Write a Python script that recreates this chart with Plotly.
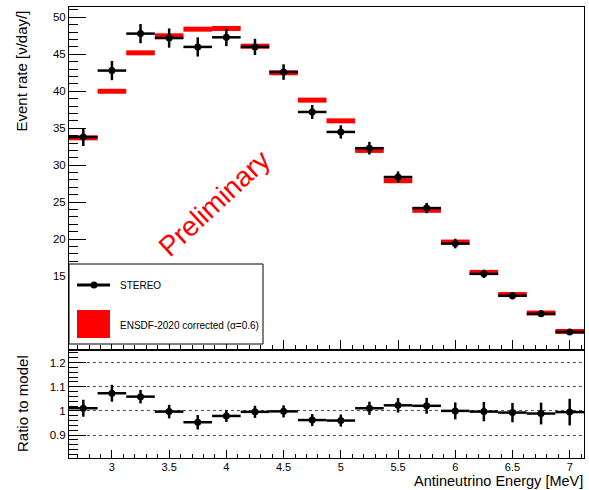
import plotly.graph_objects as go

# ---------------- data ----------------
energy = [2.75, 3.0, 3.25, 3.5, 3.75, 4.0, 4.25, 4.5, 4.75, 5.0,
          5.25, 5.5, 5.75, 6.0, 6.25, 6.5, 6.75, 7.0]
bin_half = [0.125] * 18
stereo_rate = [33.8, 42.8, 47.8, 47.2, 46.0, 47.3, 46.0, 42.6, 37.2, 34.5,
               32.3, 28.4, 24.2, 19.4, 15.3, 12.35, 9.9, 7.45]
stereo_err = [1.2, 1.3, 1.3, 1.3, 1.3, 1.2, 1.1, 1.05, 0.95, 0.9,
              0.85, 0.75, 0.7, 0.65, 0.56, 0.5, 0.42, 0.4]
model_rate = [33.7, 40.0, 45.2, 47.5, 48.4, 48.5, 46.1, 42.5, 38.8, 36.0,
              32.0, 27.9, 23.9, 19.6, 15.5, 12.5, 10.0, 7.5]
ratio = [1.011, 1.073, 1.059, 0.997, 0.953, 0.979, 0.996, 0.998, 0.962, 0.960,
         1.011, 1.023, 1.021, 1.0, 0.997, 0.993, 0.989, 0.995]
ratio_err = [0.035, 0.035, 0.028, 0.028, 0.03, 0.025, 0.025, 0.025, 0.025, 0.025,
             0.027, 0.03, 0.033, 0.035, 0.04, 0.04, 0.045, 0.055]
rate_ticks = [15, 20, 25, 30, 35, 40, 45, 50]
ratio_ticks = [0.9, 1.0, 1.1, 1.2]

# ---------------- geometry helpers ----------------
W, H = 589, 490
ML, MR, MT, MB = 69, 5, 7, 32
PW, PH = W - ML - MR, H - MT - MB
SPLIT = 350  # pixel y of panel boundary
split_frac = (H - MB - SPLIT) / PH


def px(x):
    return (x - ML) / PW


def py(y):
    return (H - MB - y) / PH


FONT = "Liberation Sans, Arial, Helvetica, sans-serif"

fig = go.Figure()

# model (red bands)
fig.add_trace(go.Scatter(
    x=energy, y=model_rate, mode="markers",
    marker=dict(size=1, color="rgba(0,0,0,0)"),
    error_x=dict(type="data", array=bin_half, color="#ff0000", thickness=5, width=0),
    xaxis="x2", yaxis="y2", showlegend=False, hoverinfo="skip"))

# STEREO data
fig.add_trace(go.Scatter(
    x=energy, y=stereo_rate, mode="markers",
    marker=dict(size=7, color="black"),
    error_x=dict(type="data", array=bin_half, color="black", thickness=2.5, width=0),
    error_y=dict(type="data", array=stereo_err, color="black", thickness=2.5, width=0),
    xaxis="x2", yaxis="y2", showlegend=False))

# ratio panel
fig.add_trace(go.Scatter(
    x=energy, y=ratio, mode="markers",
    marker=dict(size=7, color="black"),
    error_x=dict(type="data", array=bin_half, color="black", thickness=2.5, width=0),
    error_y=dict(type="data", array=ratio_err, color="black", thickness=2.5, width=0),
    xaxis="x", yaxis="y", showlegend=False))

tickfont = dict(family=FONT, size=11.5, color="black")
xtickfont = dict(family=FONT, size=11, color="black")

fig.update_layout(
    width=W, height=H,
    margin=dict(l=ML, r=MR, t=MT, b=MB, autoexpand=False),
    paper_bgcolor="white", plot_bgcolor="white",
    showlegend=False,
    xaxis=dict(domain=[0, 1], range=[2.625, 7.125], anchor="y", automargin=False,
               tickmode="linear", tick0=0, dtick=0.5,
               ticks="inside", ticklen=8, tickcolor="black", tickwidth=1,
               ticklabelstandoff=-1,
               minor=dict(ticks="inside", ticklen=4, tick0=0, dtick=0.1, tickcolor="black"),
               showline=True, linecolor="black", linewidth=1, mirror=True,
               showgrid=False, zeroline=False, tickfont=xtickfont),
    yaxis=dict(domain=[0, split_frac], range=[0.805, 1.252], anchor="x", automargin=False,
               tickmode="array", tickvals=ratio_ticks,
               ticktext=["0.9", "1", "1.1", "1.2"],
               ticks="inside", ticklen=17, tickcolor="black",
               minor=dict(ticks="inside", ticklen=9, tickmode="linear", tick0=0, dtick=0.02,
                          tickcolor="black", showgrid=False),
               showline=True, linecolor="black", linewidth=1, mirror=True,
               showgrid=True, gridcolor="#555", griddash="dot", gridwidth=1,
               zeroline=False, tickfont=tickfont),
    xaxis2=dict(domain=[0, 1], range=[2.625, 7.125], anchor="y2", matches="x",
                automargin=False,
                tickmode="linear", tick0=0, dtick=0.5, showticklabels=False,
                ticks="inside", ticklen=10, tickcolor="black",
                minor=dict(ticks="inside", ticklen=5, tick0=0, dtick=0.1, tickcolor="black"),
                showline=True, linecolor="black", linewidth=1, mirror=True,
                showgrid=False, zeroline=False),
    yaxis2=dict(domain=[split_frac, 1], range=[5.0, 51.4], anchor="x2", automargin=False,
                tickmode="array", tickvals=rate_ticks,
                ticks="inside", ticklen=17, tickcolor="black",
                minor=dict(ticks="inside", ticklen=9, tickmode="linear", tick0=0, dtick=1,
                           tickcolor="black"),
                showline=True, linecolor="black", linewidth=1, mirror=True,
                showgrid=False, zeroline=False, tickfont=tickfont),
)

# legend box (drawn manually, covers axis below 15)
shapes = [
    dict(type="rect", xref="paper", yref="paper", layer="above",
         x0=px(69), x1=px(263), y0=py(344), y1=py(264),
         fillcolor="white", line=dict(color="black", width=1)),
    dict(type="line", xref="paper", yref="paper", layer="above",
         x0=px(77), x1=px(110), y0=py(285), y1=py(285),
         line=dict(color="black", width=3)),
    dict(type="circle", xref="paper", yref="paper", layer="above",
         x0=px(90.5), x1=px(97.5), y0=py(288.5), y1=py(281.5),
         fillcolor="black", line=dict(color="black", width=0)),
    dict(type="rect", xref="paper", yref="paper", layer="above",
         x0=px(77), x1=px(110), y0=py(338), y1=py(310),
         fillcolor="#ff0000", line=dict(color="#ff0000", width=0)),
]
fig.update_layout(shapes=shapes)

annotations = [
    dict(text="STEREO", xref="paper", yref="paper", x=px(118), y=py(285),
         xanchor="left", yanchor="middle", showarrow=False,
         font=dict(family=FONT, size=10, color="black")),
    dict(text="ENSDF-2020 corrected (α=0.6)", xref="paper", yref="paper",
         x=px(118), y=py(325), xanchor="left", yanchor="middle", showarrow=False,
         font=dict(family=FONT, size=10, color="black")),
    dict(text="Preliminary", xref="paper", yref="paper", x=px(214), y=py(203),
         xanchor="center", yanchor="middle", showarrow=False, textangle=-43,
         font=dict(family=FONT, size=28, color="#ff0000")),
    dict(text="Event rate [ν/day/]", xref="paper", yref="paper", x=px(21), y=py(9),
         xanchor="center", yanchor="top", showarrow=False, textangle=-90,
         font=dict(family=FONT, size=15, color="black")),
    dict(text="Ratio to model", xref="paper", yref="paper", x=px(22), y=py(404),
         xanchor="center", yanchor="middle", showarrow=False, textangle=-90,
         font=dict(family=FONT, size=15, color="black")),
    dict(text="Antineutrino Energy [MeV]", xref="paper", yref="paper", x=px(584), y=py(490),
         xanchor="right", yanchor="bottom", showarrow=False, borderpad=0,
         font=dict(family=FONT, size=14.5, color="black")),
]
fig.update_layout(annotations=annotations)

fig.write_html("out.html", config={"displayModeBar": False},
               post_script="document.body.style.margin='0';document.body.style.overflow='hidden';")
